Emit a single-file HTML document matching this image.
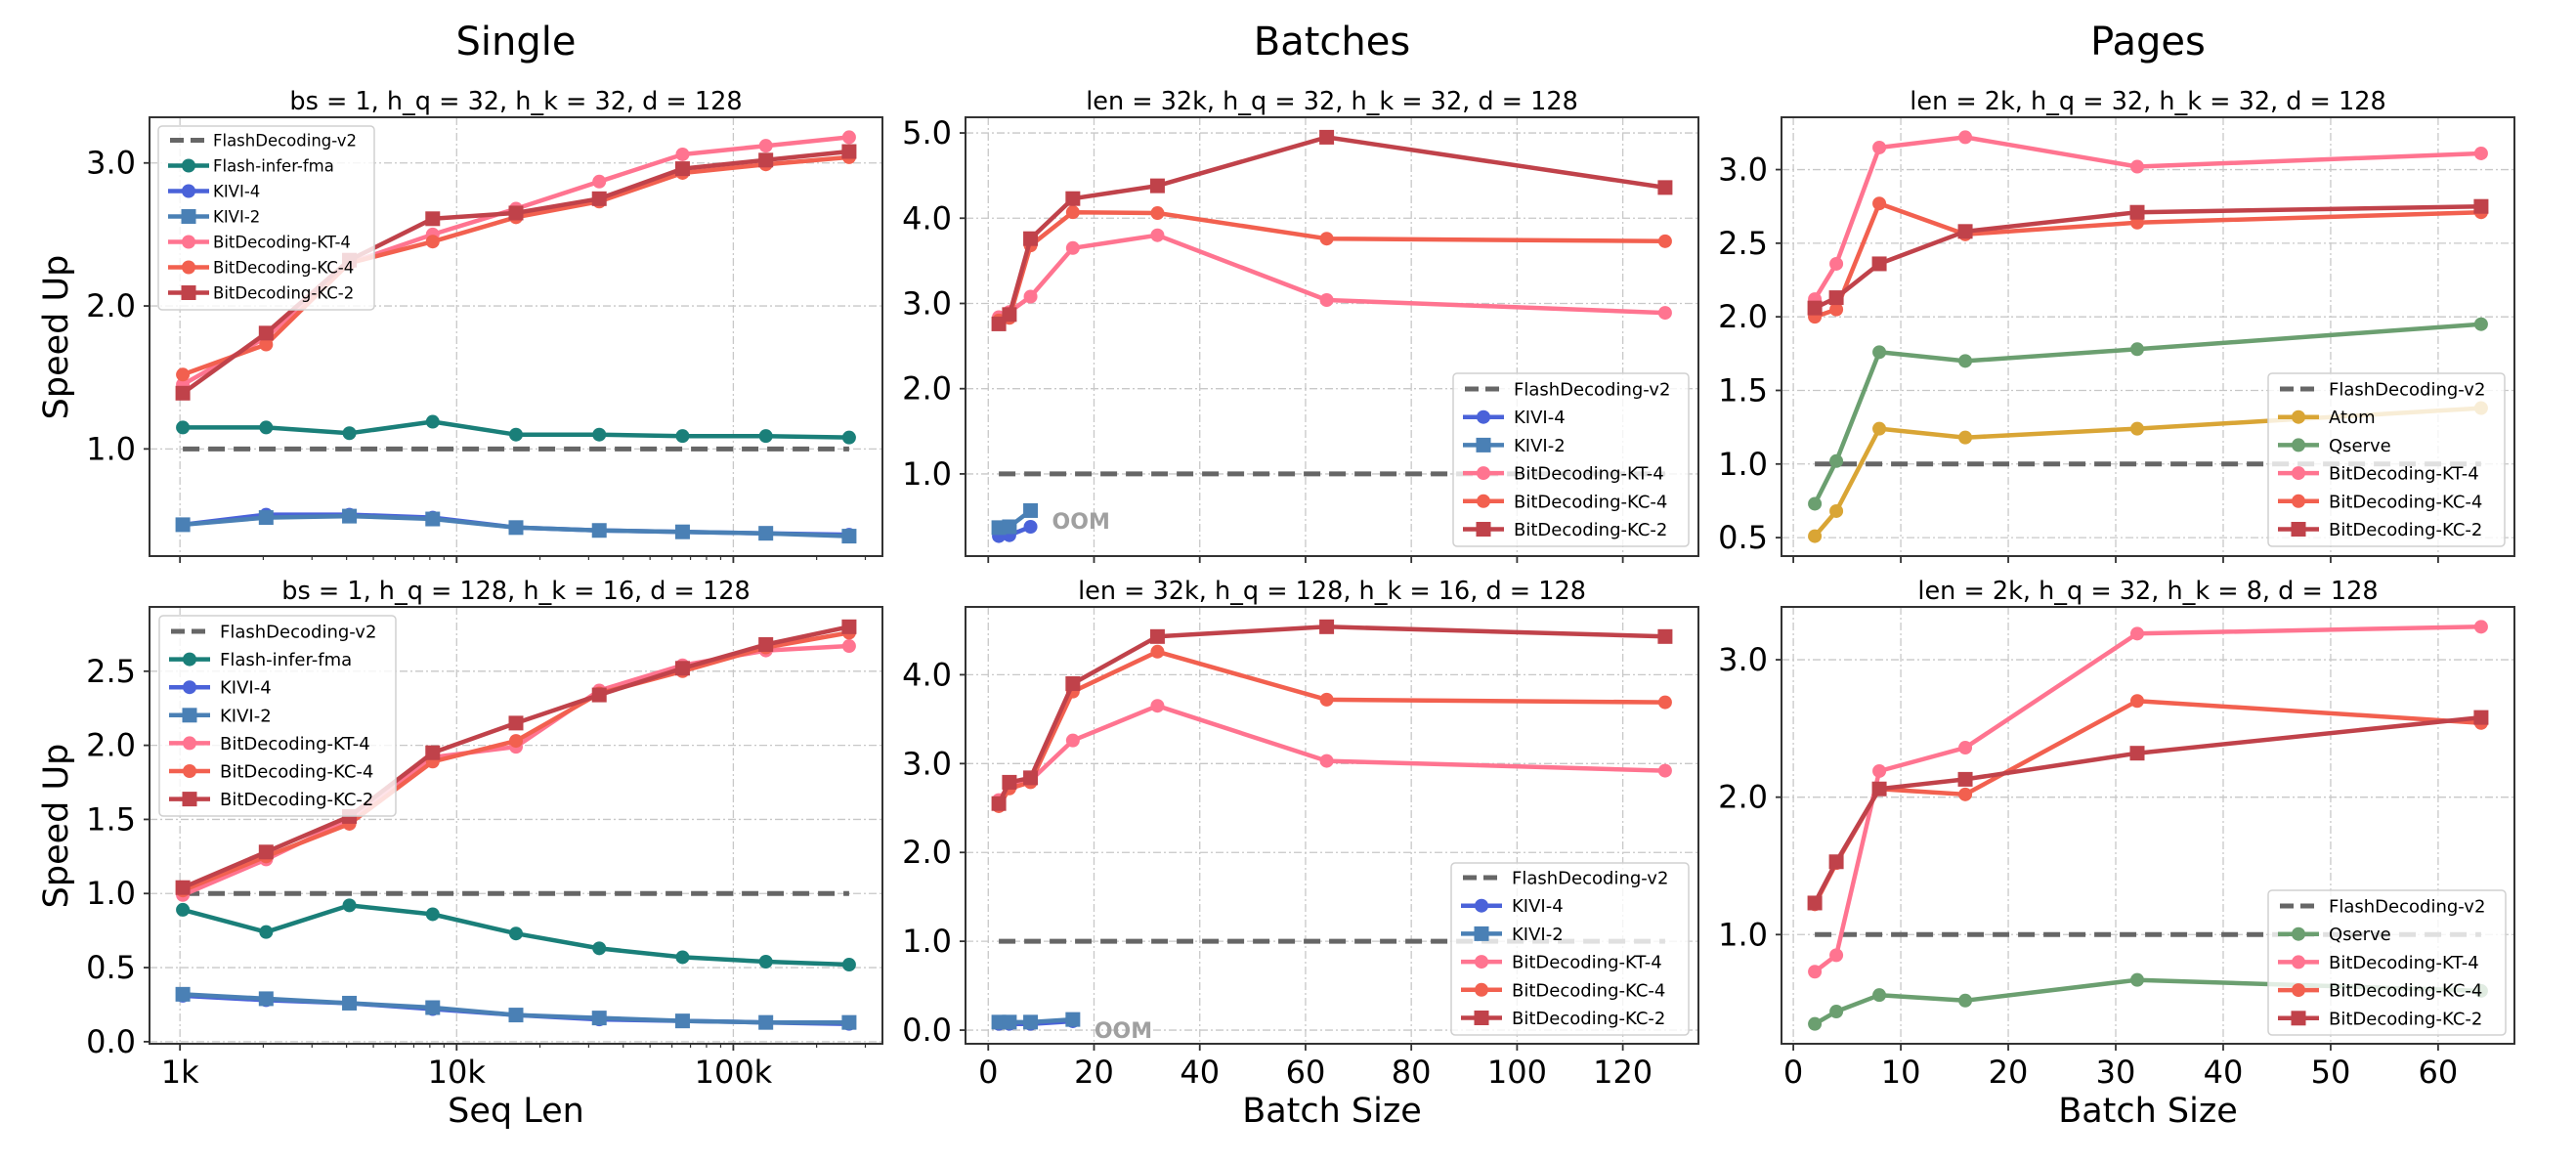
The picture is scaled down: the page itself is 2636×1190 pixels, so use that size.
<!DOCTYPE html>
<html><head><meta charset="utf-8"><style>
html,body{margin:0;padding:0;background:#fff;}
svg{display:block;font-family:"DejaVu Sans","Liberation Sans",sans-serif;}
</style></head>
<body>
<svg id="chart" width="2636" height="1190" viewBox="0 0 2636 1190" xmlns="http://www.w3.org/2000/svg"></svg>
<script>
// ---------- DATA ----------
const seqLen = [1024,2048,4096,8192,16384,32768,65536,131072,262144];
const batchX = [2,4,8,16,32,64,128];
const kiviBatchTopX = [2,4,8];
const kiviBatchBotX = [2,4,8,16];
const pageX = [2,4,8,16,32,64];

// Single, top
const s1_fi   = [1.15,1.15,1.11,1.19,1.10,1.10,1.09,1.09,1.08];
const s1_k4   = [0.47,0.54,0.54,0.52,0.45,0.43,0.42,0.41,0.40];
const s1_k2   = [0.47,0.52,0.53,0.51,0.45,0.43,0.42,0.41,0.39];
const s1_kt4  = [1.45,1.78,2.30,2.50,2.68,2.87,3.06,3.12,3.18];
const s1_kc4  = [1.52,1.73,2.30,2.45,2.62,2.73,2.93,2.99,3.04];
const s1_kc2  = [1.39,1.81,2.32,2.61,2.65,2.75,2.96,3.02,3.08];
// Single, bottom
const s2_fi   = [0.89,0.74,0.92,0.86,0.73,0.63,0.57,0.54,0.52];
const s2_k4   = [0.31,0.28,0.26,0.22,0.18,0.15,0.14,0.13,0.12];
const s2_k2   = [0.32,0.29,0.26,0.23,0.18,0.16,0.14,0.13,0.13];
const s2_kt4  = [0.99,1.23,1.50,1.92,1.99,2.37,2.54,2.64,2.67];
const s2_kc4  = [1.02,1.25,1.47,1.89,2.03,2.35,2.50,2.66,2.76];
const s2_kc2  = [1.04,1.28,1.52,1.95,2.15,2.34,2.52,2.68,2.80];
// Batches, top
const b1_k4   = [0.27,0.28,0.38];
const b1_k2   = [0.37,0.38,0.57];
const b1_kt4  = [2.84,2.90,3.08,3.65,3.80,3.04,2.89];
const b1_kc4  = [2.80,2.83,3.68,4.07,4.06,3.76,3.73];
const b1_kc2  = [2.76,2.87,3.76,4.23,4.38,4.95,4.36];
// Batches, bottom
const b2_k4   = [0.07,0.07,0.07,0.10];
const b2_k2   = [0.09,0.09,0.09,0.12];
const b2_kt4  = [2.59,2.76,2.81,3.26,3.65,3.03,2.92];
const b2_kc4  = [2.52,2.72,2.79,3.81,4.26,3.72,3.69];
const b2_kc2  = [2.55,2.79,2.84,3.90,4.43,4.54,4.43];
// Pages, top
const p1_atom = [0.51,0.68,1.24,1.18,1.24,1.38];
const p1_qs   = [0.73,1.02,1.76,1.70,1.78,1.95];
const p1_kt4  = [2.12,2.36,3.15,3.22,3.02,3.11];
const p1_kc4  = [2.00,2.05,2.77,2.56,2.64,2.71];
const p1_kc2  = [2.06,2.13,2.36,2.58,2.71,2.75];
// Pages, bottom
const p2_qs   = [0.35,0.44,0.56,0.52,0.67,0.59];
const p2_kt4  = [0.73,0.85,2.19,2.36,3.19,3.24];
const p2_kc4  = [1.22,1.52,2.06,2.02,2.70,2.54];
const p2_kc2  = [1.23,1.53,2.06,2.13,2.32,2.58];

const baseline = 1.0;

// tick values / labels
const seqTicks = [1000,10000,100000];
const seqTickLabels = ["1k","10k","100k"];
const batchTicks = [0,20,40,60,80,100,120];
const pageTicks = [0,10,20,30,40,50,60];
const yT_s1 = [1.0,2.0,3.0];
const yT_s2 = [0.0,0.5,1.0,1.5,2.0,2.5];
const yT_b1 = [1.0,2.0,3.0,4.0,5.0];
const yT_b2 = [0.0,1.0,2.0,3.0,4.0];
const yT_p1 = [0.5,1.0,1.5,2.0,2.5,3.0];
const yT_p2 = [1.0,2.0,3.0];

// ---------- STYLE ----------
const C = {fd:'#666666', fi:'#1a7f79', k4:'#4a62d9', k2:'#4a80b5', kt4:'#ff7490', kc4:'#f2604f', kc2:'#c0424a', atom:'#d9a535', qs:'#6b9f70'};
const NS='http://www.w3.org/2000/svg';
const svg=document.getElementById('chart');
function el(tag,attrs,parent){const e=document.createElementNS(NS,tag);for(const k in attrs)e.setAttribute(k,attrs[k]);(parent||svg).appendChild(e);return e;}
function txt(s,attrs,parent){const e=el('text',attrs,parent);e.textContent=s;return e;}

function makeScale(vals,lo,hi,log){
  let mn=Infinity,mx=-Infinity;
  vals.forEach(v=>{const t=log?Math.log2(v):v;if(t<mn)mn=t;if(t>mx)mx=t;});
  const m=(mx-mn)*0.05;mn-=m;mx+=m;
  return v=>{const t=log?Math.log2(v):v;return lo+(t-mn)/(mx-mn)*(hi-lo);};
}

function panel(cfg){
  const g=el('g',{});
  
  
  const {x0,y0,w,h}=cfg;
  let allX=[],allY=[baseline];
  cfg.series.forEach(s=>{allX=allX.concat(s.x);allY=allY.concat(s.y);});
  const sx=makeScale(allX,x0,x0+w,cfg.log);
  const sy=makeScale(allY,y0+h,y0,false);
  // clip
  const cid='clip-'+cfg.name;
  const cp=el('clipPath',{id:cid},g);el('rect',{x:x0,y:y0,width:w,height:h},cp);
  // grid
  const grid=el('g',{},g);
  
  
  cfg.xticks.forEach(t=>{const X=sx(t);el('line',{x1:X,x2:X,y1:y0,y2:y0+h,stroke:'#c8c8c8','stroke-width':1.3,'stroke-dasharray':'8 3 2 3'},grid);});
  cfg.yticks.forEach(t=>{const Y=sy(t);el('line',{x1:x0,x2:x0+w,y1:Y,y2:Y,stroke:'#c8c8c8','stroke-width':1.3,'stroke-dasharray':'8 3 2 3'},grid);});
  // series
  const sg=el('g',{'clip-path':'url(#'+cid+')'},g);
  const bx=cfg.series[cfg.series.length-1].x;
  const bl=el('line',{x1:sx(bx[0]),x2:sx(bx[bx.length-1]),y1:sy(baseline),y2:sy(baseline),stroke:C.fd,'stroke-width':5,'stroke-dasharray':'17 9'},sg);
  
  
  cfg.series.forEach(s=>{
    const lg=el('g',{},sg);
    
    
    const pts=s.x.map((xv,i)=>sx(xv).toFixed(1)+','+sy(s.y[i]).toFixed(1)).join(' ');
    el('polyline',{points:pts,fill:'none',stroke:s.c,'stroke-width':4.5,'stroke-linejoin':'round'},lg);
    s.x.forEach((xv,i)=>{
      const X=sx(xv),Y=sy(s.y[i]);
      let m;
      if(s.sq){m=el('rect',{x:X-7.5,y:Y-7.5,width:15,height:15,fill:s.c},lg);}
      else{m=el('circle',{cx:X,cy:Y,r:7,fill:s.c},lg);}
      
      
    });
  });
  if(cfg.oom){
    const k=cfg.series.find(s=>s.key==='kivi-2');
    const lx=k.x[k.x.length-1];
    const ot=txt('OOM',{x:sx(lx)+22,y:sy(k.y[k.y.length-1]-0.12)+8,'font-size':22,'font-weight':'bold',fill:'#a0a0a0'},g);
    
    
  }
  // spines
  const sp=el('rect',{x:x0,y:y0,width:w,height:h,fill:'none',stroke:'#333','stroke-width':2},g);
  
  
  // y ticks
  cfg.yticks.forEach(t=>{const Y=sy(t);el('line',{x1:x0-6,x2:x0,y1:Y,y2:Y,stroke:'#333','stroke-width':1.8},g);
    const tl=txt(t.toFixed(1),{x:x0-14,y:Y+11,'font-size':32,'text-anchor':'end',fill:'#000'},g);
    
    });
  // x ticks
  cfg.xticks.forEach((t,i)=>{const X=sx(t);el('line',{x1:X,x2:X,y1:y0+h,y2:y0+h+7,stroke:'#333','stroke-width':1.8},g);
    if(cfg.xlabels){const tl=txt(cfg.xlabels[i],{x:X,y:y0+h+40,'font-size':32,'text-anchor':'middle',fill:'#000'},g);
      
      }});
  if(cfg.log){
    [1,10,100].forEach(d=>{for(let k=2;k<=9;k++){const v=d*1000*k;const X=sx(v);if(X>x0&&X<x0+w)el('line',{x1:X,x2:X,y1:y0+h,y2:y0+h+4,stroke:'#333','stroke-width':1.2},g);}});
    const X=sx(500*1.8);
  }
  // subtitle
  const st=txt(cfg.sub,{x:x0+w/2,y:y0-8,'font-size':25.5,'text-anchor':'middle',fill:'#000'},g);
  
  
  // legend
  const L=cfg.leg;
  const lgG=el('g',{},g);
  
  
  el('rect',{x:L.x,y:L.y,width:L.w,height:L.h,rx:4,fill:'#fff','fill-opacity':0.8,stroke:'#d0d0d0','stroke-width':1.5},lgG);
  const entries=[{label:'FlashDecoding-v2',c:C.fd,dash:true}].concat(cfg.series.map(s=>({label:s.label,c:s.c,sq:s.sq})));
  entries.forEach((e,i)=>{
    const Y=L.first+i*L.sp;const ex=el('g',{},lgG);
    
    
    if(e.dash){el('line',{x1:L.x+12,x2:L.x+52,y1:Y,y2:Y,stroke:e.c,'stroke-width':5,'stroke-dasharray':'14 7'},ex);}
    else{el('line',{x1:L.x+10,x2:L.x+52,y1:Y,y2:Y,stroke:e.c,'stroke-width':4.5},ex);
      if(e.sq)el('rect',{x:L.x+31-7.5,y:Y-7.5,width:15,height:15,fill:e.c},ex);else el('circle',{cx:L.x+31,cy:Y,r:7,fill:e.c},ex);}
    txt(e.label,{x:L.x+L.tx,y:Y+L.fs*0.36,'font-size':L.fs,fill:'#000'},ex);
  });
}

const X0=[153,988,1823],W=750,TOP=[120,621],H=[449,447];
const sub=(key,label,c,x,y,sq)=>({key,label,c,x,y,sq});

panel({name:'single-top',x0:X0[0],y0:TOP[0],w:W,h:H[0],log:true,xticks:seqTicks,yticks:yT_s1,
  sub:'bs = 1, h_q = 32, h_k = 32, d = 128',
  leg:{x:162,y:129,w:221,h:188,first:143.5,sp:26,fs:16.5,tx:56},
  series:[sub('flash-infer-fma','Flash-infer-fma',C.fi,seqLen,s1_fi),sub('kivi-4','KIVI-4',C.k4,seqLen,s1_k4),sub('kivi-2','KIVI-2',C.k2,seqLen,s1_k2,true),
    sub('kt-4','BitDecoding-KT-4',C.kt4,seqLen,s1_kt4),sub('kc-4','BitDecoding-KC-4',C.kc4,seqLen,s1_kc4),sub('kc-2','BitDecoding-KC-2',C.kc2,seqLen,s1_kc2,true)]});
panel({name:'single-bottom',x0:X0[0],y0:TOP[1],w:W,h:H[1],log:true,xticks:seqTicks,xlabels:seqTickLabels,yticks:yT_s2,
  sub:'bs = 1, h_q = 128, h_k = 16, d = 128',
  leg:{x:163,y:630,w:242,h:205,first:646,sp:28.6,fs:18,tx:62},
  series:[sub('flash-infer-fma','Flash-infer-fma',C.fi,seqLen,s2_fi),sub('kivi-4','KIVI-4',C.k4,seqLen,s2_k4),sub('kivi-2','KIVI-2',C.k2,seqLen,s2_k2,true),
    sub('kt-4','BitDecoding-KT-4',C.kt4,seqLen,s2_kt4),sub('kc-4','BitDecoding-KC-4',C.kc4,seqLen,s2_kc4),sub('kc-2','BitDecoding-KC-2',C.kc2,seqLen,s2_kc2,true)]});
panel({name:'batches-top',x0:X0[1],y0:TOP[0],w:W,h:H[0],xticks:batchTicks,yticks:yT_b1,oom:true,
  sub:'len = 32k, h_q = 32, h_k = 32, d = 128',
  leg:{x:1487,y:382,w:241,h:177,first:398,sp:28.7,fs:18,tx:62},
  series:[sub('kivi-4','KIVI-4',C.k4,kiviBatchTopX,b1_k4),sub('kivi-2','KIVI-2',C.k2,kiviBatchTopX,b1_k2,true),
    sub('kt-4','BitDecoding-KT-4',C.kt4,batchX,b1_kt4),sub('kc-4','BitDecoding-KC-4',C.kc4,batchX,b1_kc4),sub('kc-2','BitDecoding-KC-2',C.kc2,batchX,b1_kc2,true)]});
panel({name:'batches-bottom',x0:X0[1],y0:TOP[1],w:W,h:H[1],xticks:batchTicks,xlabels:batchTicks.map(String),yticks:yT_b2,oom:true,
  sub:'len = 32k, h_q = 128, h_k = 16, d = 128',
  leg:{x:1485,y:883,w:243,h:176,first:898,sp:28.7,fs:18,tx:62},
  series:[sub('kivi-4','KIVI-4',C.k4,kiviBatchBotX,b2_k4),sub('kivi-2','KIVI-2',C.k2,kiviBatchBotX,b2_k2,true),
    sub('kt-4','BitDecoding-KT-4',C.kt4,batchX,b2_kt4),sub('kc-4','BitDecoding-KC-4',C.kc4,batchX,b2_kc4),sub('kc-2','BitDecoding-KC-2',C.kc2,batchX,b2_kc2,true)]});
panel({name:'pages-top',x0:X0[2],y0:TOP[0],w:W,h:H[0],xticks:pageTicks,yticks:yT_p1,
  sub:'len = 2k, h_q = 32, h_k = 32, d = 128',
  leg:{x:2321,y:382,w:242,h:177,first:398,sp:28.7,fs:18,tx:62},
  series:[sub('atom','Atom',C.atom,pageX,p1_atom),sub('qserve','Qserve',C.qs,pageX,p1_qs),
    sub('kt-4','BitDecoding-KT-4',C.kt4,pageX,p1_kt4),sub('kc-4','BitDecoding-KC-4',C.kc4,pageX,p1_kc4),sub('kc-2','BitDecoding-KC-2',C.kc2,pageX,p1_kc2,true)]});
panel({name:'pages-bottom',x0:X0[2],y0:TOP[1],w:W,h:H[1],xticks:pageTicks,xlabels:pageTicks.map(String),yticks:yT_p2,
  sub:'len = 2k, h_q = 32, h_k = 8, d = 128',
  leg:{x:2321,y:911,w:243,h:148,first:927,sp:28.7,fs:18,tx:62},
  series:[sub('qserve','Qserve',C.qs,pageX,p2_qs),
    sub('kt-4','BitDecoding-KT-4',C.kt4,pageX,p2_kt4),sub('kc-4','BitDecoding-KC-4',C.kc4,pageX,p2_kc4),sub('kc-2','BitDecoding-KC-2',C.kc2,pageX,p2_kc2,true)]});

// column titles & axis labels
[['Single',0],['Batches',1],['Pages',2]].forEach(([t,i])=>{
  const e=txt(t,{x:X0[i]+W/2,y:56,'font-size':40,'text-anchor':'middle',fill:'#000'});
  
  
});
[['Seq Len',0],['Batch Size',1],['Batch Size',2]].forEach(([t,i])=>{
  const e=txt(t,{x:X0[i]+W/2,y:1148,'font-size':35,'text-anchor':'middle',fill:'#000'});
  
  
});
[345,845].forEach(cy=>{
  const e=txt('Speed Up',{x:0,y:0,'font-size':35,'text-anchor':'middle',fill:'#000',transform:'translate(69,'+cy+') rotate(-90)'});
  
  
});
</script>
</body></html>
